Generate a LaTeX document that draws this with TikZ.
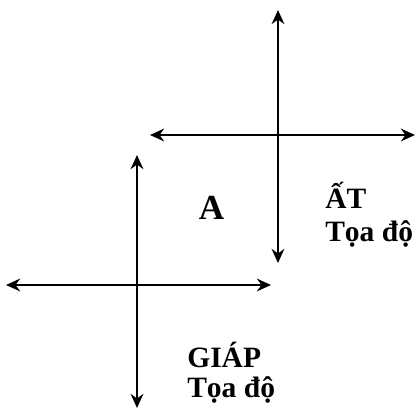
\documentclass[tikz,border=0pt]{standalone}
\usepackage{fontspec}
\setmainfont{Liberation Serif}
\usetikzlibrary{arrows.meta}

\tikzset{
  axis/.style={line width=2pt,
    {Stealth[length=10pt,width=9pt]}-{Stealth[length=10pt,width=9pt]}},
  lbl/.style={font=\bfseries\fontsize{21}{25}\selectfont,
    anchor=base west,inner sep=0pt},
}

\begin{document}
\begin{tikzpicture}[x=0.025cm,y=-0.025cm]
  \useasboundingbox (0,0) rectangle (417,414);
  % upper cross
  \coordinate (upTop) at (278,10);
  \coordinate (upBot) at (278,263);
  \coordinate (upLeft) at (150,135);
  \coordinate (upRight) at (415,135);
  \draw[axis] (upTop) -- (upBot);
  \draw[axis] (upLeft) -- (upRight);
  % lower cross
  \coordinate (loTop) at (137,155);
  \coordinate (loBot) at (137,408);
  \coordinate (loLeft) at (6,285);
  \coordinate (loRight) at (271,285);
  \draw[axis] (loTop) -- (loBot);
  \draw[axis] (loLeft) -- (loRight);
  % labels
  \node[font=\bfseries\fontsize{25}{29}\selectfont,anchor=base,inner sep=0pt]
    (areaA) at (211.5,220) {A};
  \node[lbl] (at) at (325,208) {ẤT};
  \node[lbl] (atCoord) at (325,242) {Tọa độ};
  \node[lbl] (giap) at (187,368) {GIÁP};
  \node[lbl] (giapCoord) at (187,398) {Tọa độ};
\end{tikzpicture}
\end{document}
